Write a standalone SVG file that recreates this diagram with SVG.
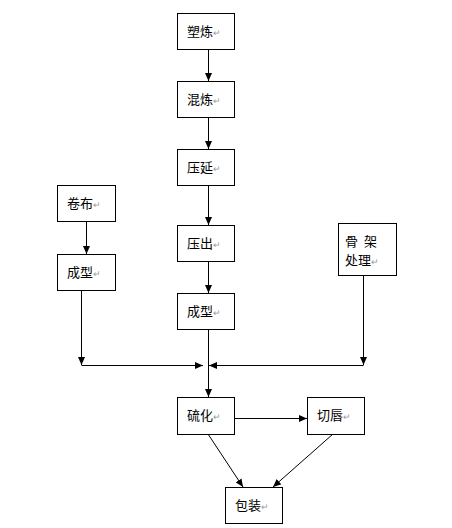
<svg xmlns="http://www.w3.org/2000/svg" width="452" height="528" viewBox="0 0 452 528">
<defs>
<style>
.box{fill:#fff;stroke:#000;stroke-width:1}
.t{font-family:"Noto Sans CJK SC","Liberation Sans",sans-serif;font-size:13px;fill:#000}
.r{fill:#999;font-size:9px}
.c{stroke:#000;stroke-width:1;fill:none}
.a{marker-end:url(#ah)}
</style>
<marker id="ah" markerWidth="8" markerHeight="7" refX="8" refY="3.5" orient="auto" markerUnits="userSpaceOnUse">
<path d="M0,0 L8,3.5 L0,7 z" fill="#000"/>
</marker>
</defs>
<rect width="452" height="528" fill="#fff"/>
<g id="connectors">
<line class="c a" x1="208.5" y1="49" x2="208.5" y2="81"/>
<line class="c a" x1="208.5" y1="117" x2="208.5" y2="149"/>
<line class="c a" x1="208.5" y1="185" x2="208.5" y2="225"/>
<line class="c a" x1="208.5" y1="261" x2="208.5" y2="293"/>
<line class="c a" x1="208.5" y1="329" x2="208.5" y2="397"/>
<line class="c a" x1="86.5" y1="221" x2="86.5" y2="254"/>
<line class="c a" x1="81.5" y1="290" x2="81.5" y2="365"/>
<line class="c a" x1="81.5" y1="365.5" x2="203" y2="365.5"/>
<line class="c a" x1="363.5" y1="275" x2="363.5" y2="365"/>
<line class="c a" x1="363.5" y1="365.5" x2="209" y2="365.5"/>
<line class="c a" x1="234" y1="418.5" x2="307" y2="418.5"/>
<line class="c a" x1="208" y1="434" x2="243" y2="487"/>
<line class="c a" x1="333" y1="434" x2="273" y2="487"/>
</g>
<g id="n1"><rect class="box" x="177.5" y="13.5" width="57" height="36"/><text class="t" x="187" y="36">塑炼<tspan class="r">↵</tspan></text></g>
<g id="n2"><rect class="box" x="177.5" y="81.5" width="57" height="36"/><text class="t" x="187" y="104">混炼<tspan class="r">↵</tspan></text></g>
<g id="n3"><rect class="box" x="177.5" y="149.5" width="57" height="36"/><text class="t" x="187" y="172">压延<tspan class="r">↵</tspan></text></g>
<g id="n4"><rect class="box" x="177.5" y="225.5" width="57" height="36"/><text class="t" x="187" y="248">压出<tspan class="r">↵</tspan></text></g>
<g id="n5"><rect class="box" x="177.5" y="293.5" width="57" height="36"/><text class="t" x="187" y="316">成型<tspan class="r">↵</tspan></text></g>
<g id="n6"><rect class="box" x="57.5" y="185.5" width="58" height="36"/><text class="t" x="67" y="208">卷布<tspan class="r">↵</tspan></text></g>
<g id="n7"><rect class="box" x="57.5" y="254.5" width="58" height="36"/><text class="t" x="67" y="277">成型<tspan class="r">↵</tspan></text></g>
<g id="n8"><rect class="box" x="338.5" y="223.5" width="58" height="52"/><text class="t" x="345" y="246">骨 <tspan x="364">架</tspan></text><text class="t" x="345" y="265">处理<tspan class="r">↵</tspan></text></g>
<g id="n9"><rect class="box" x="177.5" y="397.5" width="57" height="37"/><text class="t" x="187" y="420">硫化<tspan class="r">↵</tspan></text></g>
<g id="n10"><rect class="box" x="307.5" y="397.5" width="57" height="37"/><text class="t" x="317" y="420">切唇<tspan class="r">↵</tspan></text></g>
<g id="n11"><rect class="box" x="225.5" y="487.5" width="57" height="36"/><text class="t" x="235" y="510">包装<tspan class="r">↵</tspan></text></g>
</svg>
